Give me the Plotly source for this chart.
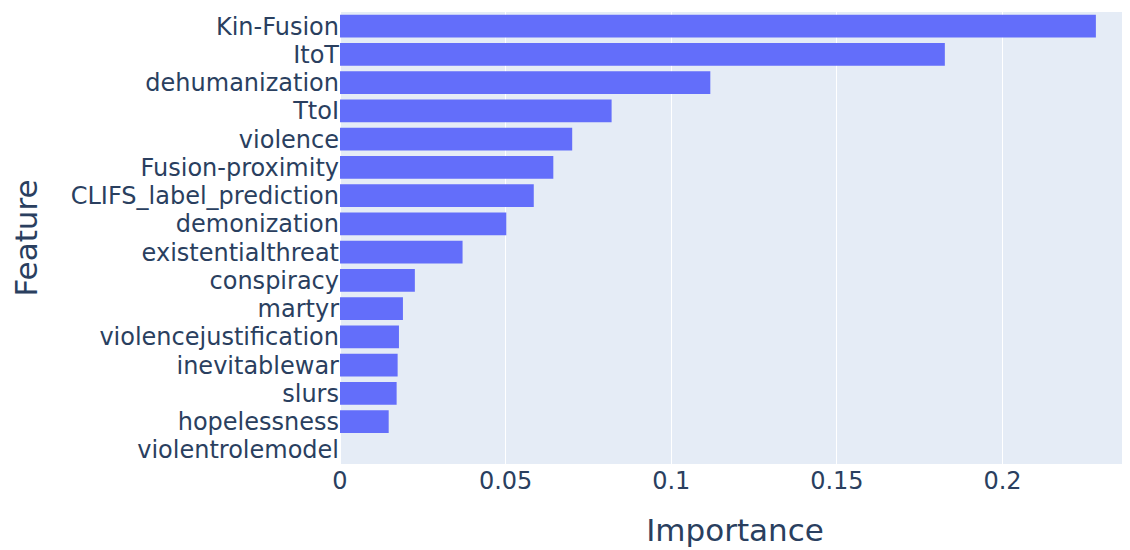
import plotly.graph_objects as go

features = ["Kin-Fusion", "ItoT", "dehumanization", "TtoI", "violence", "Fusion-proximity",
            "CLIFS_label_prediction", "demonization", "existentialthreat", "conspiracy",
            "martyr", "violencejustification", "inevitablewar", "slurs", "hopelessness",
            "violentrolemodel"]
importance = [0.2282, 0.1826, 0.1118, 0.0820, 0.0701, 0.0644, 0.0585, 0.0502, 0.0370,
              0.0226, 0.0190, 0.0178, 0.0174, 0.0171, 0.0147, 0.0]
x_ticks = [0, 0.05, 0.1, 0.15, 0.2]
x_ticklabels = ["0", "0.05", "0.1", "0.15", "0.2"]

fig = go.Figure(go.Bar(x=importance, y=features, orientation="h",
                       marker=dict(color="#636efa", line=dict(width=0))))

font_family = "DejaVu Sans, Verdana, sans-serif"
fig.update_layout(
    width=1122, height=542,
    template="plotly",
    margin=dict(l=332, r=0, t=4, b=86),
    font=dict(family=font_family, size=24, color="#2a3f5f"),
    xaxis=dict(title=dict(text="Importance", font=dict(size=31), standoff=25), range=[0, 0.2385],
               tickmode="array", tickvals=x_ticks, ticktext=x_ticklabels,
               automargin=False),
    yaxis=dict(title=dict(text="Feature", font=dict(size=31), standoff=30), autorange="reversed",
               tickmode="array", tickvals=features, ticktext=features,
               automargin=False),
    showlegend=False,
)
fig.write_html("out.html")
